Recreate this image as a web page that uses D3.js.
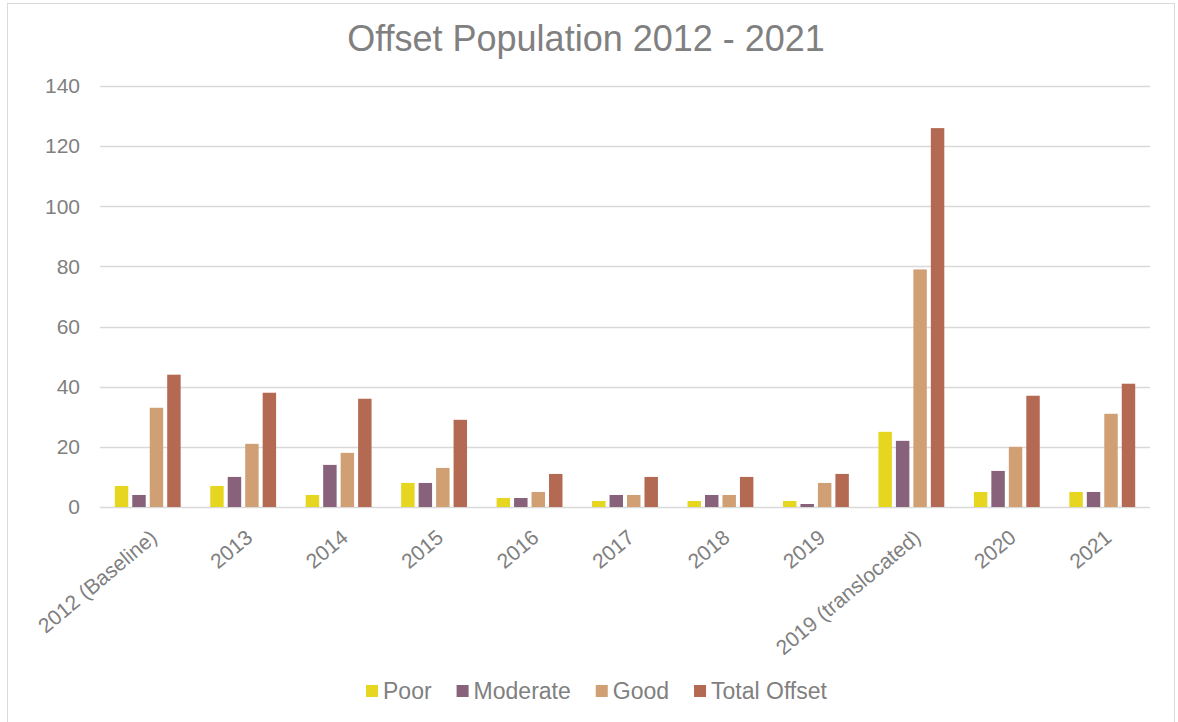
<!DOCTYPE html>
<html>
<head>
<meta charset="utf-8">
<script src="https://cdn.jsdelivr.net/npm/d3@7"></script>
<style>
  body { margin: 0; background: #fff; }
  text { font-family: "Liberation Sans", Arial, sans-serif; }
</style>
</head>
<body>
<div id="chart"></div>
<script>
// chart data
const categories = ['2012 (Baseline)', '2013', '2014', '2015', '2016', '2017', '2018', '2019', '2019 (translocated)', '2020', '2021'];
const seriesNames = ['Poor', 'Moderate', 'Good', 'Total Offset'];
const poor = [7, 7, 4, 8, 3, 2, 2, 2, 25, 5, 5];
const moderate = [4, 10, 14, 8, 3, 4, 4, 1, 22, 12, 5];
const good = [33, 21, 18, 13, 5, 4, 4, 8, 79, 20, 31];
const totalOffset = [44, 38, 36, 29, 11, 10, 10, 11, 126, 37, 41];
const yTicks = [0, 20, 40, 60, 80, 100, 120, 140];

const colors = ['#e6d620', '#87627a', '#d0a074', '#b46a52'];
const seriesValues = [poor, moderate, good, totalOffset];
const textColor = '#808080';

const width = 1178, height = 722;
const margin = { top: 86, right: 28, bottom: 215, left: 100 };

const svg = d3.select('#chart')
  .append('svg')
  .attr('width', width)
  .attr('height', height);

svg.append('rect')
  .attr('x', 7.5).attr('y', 3.5)
  .attr('width', 1167).attr('height', 730)
  .attr('fill', '#fff')
  .attr('stroke', '#d9d9d9');

const x = d3.scaleBand()
  .domain(categories)
  .range([margin.left, width - margin.right])
  .paddingInner(0.31)
  .paddingOuter(0.155);

const xInner = d3.scaleBand()
  .domain(seriesNames)
  .range([0, x.bandwidth()])
  .paddingInner(0.23);

const y = d3.scaleLinear()
  .domain([0, 140])
  .range([height - margin.bottom, margin.top]);

// gridlines
svg.append('g')
  .selectAll('line')
  .data(yTicks)
  .join('line')
  .attr('x1', margin.left)
  .attr('x2', width - margin.right)
  .attr('y1', d => Math.round(y(d)) + 0.5)
  .attr('y2', d => Math.round(y(d)) + 0.5)
  .attr('stroke', '#d9d9d9')
  .attr('stroke-width', 1.3);

// y axis labels
svg.append('g')
  .selectAll('text')
  .data(yTicks)
  .join('text')
  .attr('x', 80)
  .attr('y', d => y(d))
  .attr('dy', '0.35em')
  .attr('text-anchor', 'end')
  .attr('fill', textColor)
  .style('font-size', '21px')
  .text(d => d);

// bars
const groups = svg.append('g')
  .selectAll('g')
  .data(categories)
  .join('g')
  .attr('transform', d => `translate(${x(d)},0)`);

groups.selectAll('rect')
  .data((d, i) => seriesNames.map((s, j) => ({ s, j, v: seriesValues[j][i] })))
  .join('rect')
  .attr('x', d => xInner(d.s))
  .attr('width', xInner.bandwidth())
  .attr('y', d => y(d.v))
  .attr('height', d => y(0) - y(d.v))
  .attr('fill', d => colors[d.j]);

// x labels, rotated
svg.append('g')
  .selectAll('text')
  .data(categories)
  .join('text')
  .attr('transform', d => `translate(${x(d) + x.bandwidth() / 2 + 6},${y(0) + 27}) rotate(-40)`)
  .attr('text-anchor', 'end')
  .attr('dy', '0.35em')
  .attr('fill', textColor)
  .style('font-size', '21px')
  .text(d => d);

// title
svg.append('text')
  .attr('x', 586)
  .attr('y', 51)
  .attr('text-anchor', 'middle')
  .attr('fill', textColor)
  .style('font-size', '36px')
  .text('Offset Population 2012 - 2021');

// legend, laid out from measured text widths
const legend = svg.append('g').attr('transform', 'translate(366,691)');
let lx = 0;
seriesNames.forEach((name, i) => {
  const item = legend.append('g').attr('transform', `translate(${lx},0)`);
  item.append('rect')
    .attr('x', 0).attr('y', -6)
    .attr('width', 12).attr('height', 12)
    .attr('fill', colors[i]);
  const t = item.append('text')
    .attr('x', 17)
    .attr('dy', '0.35em')
    .attr('fill', textColor)
    .style('font-size', '23px')
    .text(name);
  lx += 17 + t.node().getComputedTextLength() + 25;
});
</script>
</body>
</html>
